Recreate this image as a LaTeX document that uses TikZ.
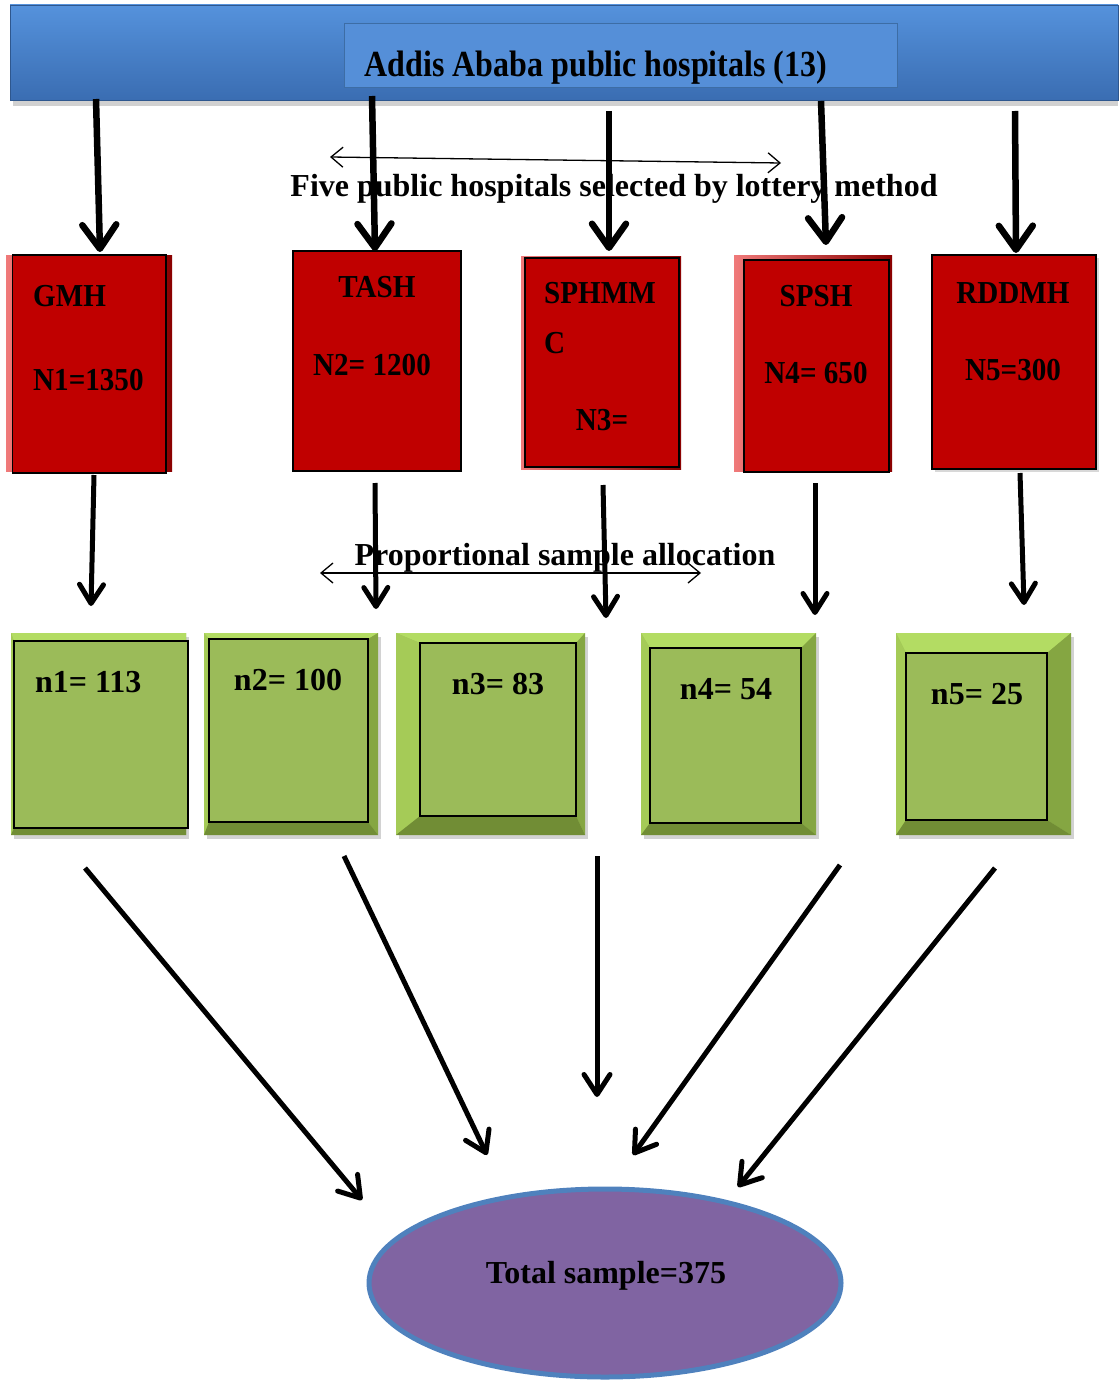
\documentclass[tikz,border=0pt]{standalone}
\usepackage{fontspec}
\setmainfont{Liberation Serif}
\usetikzlibrary{arrows.meta,shapes.geometric}
\definecolor{bartop}{HTML}{5592DC}
\definecolor{barbot}{HTML}{3A6DB2}
\definecolor{hdrfill}{HTML}{558FD8}
\definecolor{hdrline}{HTML}{3D6DA5}
\definecolor{hospred}{HTML}{C00000}
\definecolor{bevpink}{HTML}{F07A7A}
\definecolor{bevdark}{HTML}{8A0000}
\definecolor{grnfill}{HTML}{9BBB59}
\definecolor{grntop}{HTML}{B3DC63}
\definecolor{grnleft}{HTML}{A5CB57}
\definecolor{grnright}{HTML}{85A642}
\definecolor{grnbot}{HTML}{718D35}
\definecolor{ellfill}{HTML}{8064A2}
\definecolor{elledge}{HTML}{4F81BD}
\newcommand\greenbevel[8]{%
  \fill[black!35,opacity=.5] (#1+3,#2+4) rectangle (#3+3,#4+4);
  \fill[grnfill] (#1,#2) rectangle (#3,#4);
  \fill[grntop] (#1,#2) -- (#3,#2) -- (#7,#6) -- (#5,#6) -- cycle;
  \fill[grnleft] (#1,#2) -- (#5,#6) -- (#5,#8) -- (#1,#4) -- cycle;
  \fill[grnright] (#3,#2) -- (#7,#6) -- (#7,#8) -- (#3,#4) -- cycle;
  \fill[grnbot] (#1,#4) -- (#5,#8) -- (#7,#8) -- (#3,#4) -- cycle;
}
\begin{document}
\begin{tikzpicture}[x=1pt,y=-1pt,
  txt/.style={font=\fontsize{32}{36}\selectfont\bfseries, inner sep=0pt, anchor=base},
  txtl/.style={txt, anchor=base west},
  rtxt/.style={txt, xscale=0.91},
  rtxtl/.style={txtl, xscale=0.91},
  redbox/.style={draw=black, line width=1.5pt, fill=hospred, inner sep=0pt},
  grnbox/.style={draw=black, line width=1.3pt, fill=grnfill, inner sep=0pt},
  bigarrow/.style={line width=6.5pt, -{Straight Barb[round,length=24pt,width=34pt]}},
  midarrow/.style={line width=5pt, -{Straight Barb[round,length=19pt,width=24pt]}},
  lowarrow/.style={line width=5pt, -{Straight Barb[round,length=20pt,width=26pt]}},
  thinarrow/.style={line width=1.3pt, {Straight Barb[length=12pt,width=20pt]}-{Straight Barb[length=12pt,width=20pt]}}
]
\useasboundingbox (0,0) rectangle (1118,1380);

% top bar
\fill[black!40,opacity=.45] (13,9) rectangle (1118,106);
\node[minimum width=1108pt, minimum height=95pt, inner sep=0pt,
      top color=bartop, bottom color=barbot, draw=barbot!80!black, line width=.8pt] (bar) at (564,52.5) {};
\node[minimum width=553pt, minimum height=64pt, inner sep=0pt, fill=hdrfill, draw=hdrline, line width=1pt] (hdr) at (620.5,56) {};
\node[txt, yscale=1.15] (ttl) at (596,77) {Addis Ababa public hospitals (13)};

% lottery text and double arrow
\node[txt] (lottxt) at (614,197) {Five public hospitals selected by lottery method};
\coordinate (lotL) at (330,157);
\coordinate (lotR) at (781,163);
\draw[thinarrow] (lotL) -- (lotR);

% red boxes with bevels
\fill[left color=bevpink, right color=bevdark] (6,255) rectangle (172,471);
\node[redbox, minimum width=153.5pt, minimum height=218pt] (r1) at (89.25,364) {};
\node[redbox, minimum width=168pt, minimum height=220pt] (r2) at (377,361) {};
\fill[left color=bevpink, right color=bevdark] (521,256) rectangle (681,469);
\node[redbox, minimum width=154pt, minimum height=209pt] (r3) at (602,362.5) {};
\fill[left color=bevpink, right color=bevdark] (734,255) rectangle (892,471);
\node[redbox, minimum width=145pt, minimum height=212pt] (r4) at (816.5,366) {};
\fill[black!30,opacity=.5] (935,258) rectangle (1099,472);
\node[redbox, minimum width=164pt, minimum height=214pt] (r5) at (1014,362) {};

\node[rtxtl] (r1a) at (33,306) {GMH};
\node[rtxtl] (r1b) at (33,390) {N1=1350};
\node[rtxt] (r2a) at (377,297) {TASH};
\node[rtxt] (r2b) at (372,375) {N2= 1200};
\node[rtxtl] (r3a) at (544,303) {SPHMM};
\node[rtxtl] (r3b) at (544,353) {C};
\node[rtxt] (r3c) at (602,430) {N3=};
\node[rtxt] (r4a) at (816,306) {SPSH};
\node[rtxt] (r4b) at (816,383) {N4= 650};
\node[rtxt] (r5a) at (1013,303) {RDDMH};
\node[rtxt] (r5b) at (1013,380) {N5=300};

% proportional text and double arrow
\node[txt] (proptxt) at (565,565) {Proportional sample allocation};
\coordinate (propL) at (320,573);
\coordinate (propR) at (701,573);
\draw[thinarrow] (propL) -- (propR);

% green boxes
\greenbevel{11}{633}{186}{835}{14}{641}{186}{828}
\node[grnbox, minimum width=174pt, minimum height=187pt] (g1) at (101,734.5) {};
\greenbevel{204}{633}{378}{835}{209}{639}{368}{822}
\node[grnbox, minimum width=159pt, minimum height=183pt] (g2) at (288.5,730.5) {};
\greenbevel{396}{633}{585}{835}{420}{643}{576}{816}
\node[grnbox, minimum width=156pt, minimum height=173pt] (g3) at (498,729.5) {};
\greenbevel{641}{633}{816}{835}{650}{648}{801}{823}
\node[grnbox, minimum width=151pt, minimum height=175pt] (g4) at (725.5,735.5) {};
\greenbevel{896}{633}{1071}{835}{906}{653}{1047}{820}
\node[grnbox, minimum width=141pt, minimum height=167pt] (g5) at (976.5,736.5) {};

\node[txtl] (g1t) at (35,692) {n1= 113};
\node[txt] (g2t) at (288,690) {n2= 100};
\node[txt] (g3t) at (498,694) {n3= 83};
\node[txt] (g4t) at (726,699) {n4= 54};
\node[txt] (g5t) at (977,704) {n5= 25};

% total ellipse
\node[ellipse, draw=elledge, line width=5pt, fill=ellfill, minimum width=472pt, minimum height=188pt, inner sep=0pt] (tot) at (605,1283) {};
\node[txt] (tottxt) at (606,1283) {Total sample=375};

% arrow endpoints
\coordinate (t1s) at (96,99);   \coordinate (t1e) at (100,252);
\coordinate (t2s) at (372,96);  \coordinate (t2e) at (375,251);
\coordinate (t3s) at (609,111); \coordinate (t3e) at (609,251);
\coordinate (t4s) at (821,101); \coordinate (t4e) at (826,245);
\coordinate (t5s) at (1015,111);\coordinate (t5e) at (1016,253);

\coordinate (m1s) at (94,475);  \coordinate (m1e) at (91,606);
\coordinate (m2s) at (375,483); \coordinate (m2e) at (376,609);
\coordinate (m3s) at (603,485); \coordinate (m3e) at (606,618);
\coordinate (m4s) at (815,483); \coordinate (m4e) at (815,615);
\coordinate (m5s) at (1020,473);\coordinate (m5e) at (1024,605);

\coordinate (b1s) at (85,868);  \coordinate (b1e) at (362,1200);
\coordinate (b2s) at (344,856); \coordinate (b2e) at (487,1155);
\coordinate (b3s) at (597,856); \coordinate (b3e) at (597,1097);
\coordinate (b4s) at (840,865); \coordinate (b4e) at (633,1155);
\coordinate (b5s) at (995,868); \coordinate (b5e) at (738,1187);

\foreach \i in {1,...,5}{
  \draw[bigarrow] (t\i s) -- (t\i e);
  \draw[midarrow] (m\i s) -- (m\i e);
  \draw[lowarrow] (b\i s) -- (b\i e);
}
\end{tikzpicture}
\end{document}
